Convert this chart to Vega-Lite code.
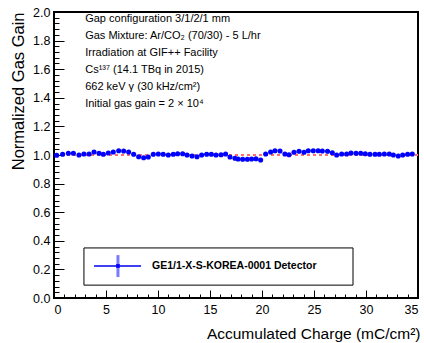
{
  "$schema": "https://vega.github.io/schema/vega-lite/v6.json",
  "width": 364,
  "height": 286,
  "autosize": {"type": "none"},
  "padding": {"left": 54, "top": 12, "right": 6, "bottom": 45},
  "config": {
    "view": {"stroke": "#000", "strokeWidth": 2},
    "font": "Liberation Sans",
    "axis": {
      "grid": false, "domain": false,
      "labelFont": "Liberation Sans", "labelFontSize": 12.5, "labelColor": "#000",
      "tickColor": "#000", "tickWidth": 1,
      "titleFont": "Liberation Sans", "titleFontWeight": "normal", "titleColor": "#000", "titleFontSize": 15.5
    }
  },
  "datasets": {
    "gain": [
      {"q": 0.26, "g": 0.998, "e": 0.005}, {"q": 0.83, "g": 1.005, "e": 0.005}, {"q": 1.38, "g": 1.012, "e": 0.005},
      {"q": 1.86, "g": 1.012, "e": 0.005}, {"q": 2.40, "g": 1.000, "e": 0.011}, {"q": 2.88, "g": 1.007, "e": 0.005},
      {"q": 3.37, "g": 1.007, "e": 0.005}, {"q": 3.85, "g": 1.021, "e": 0.012}, {"q": 4.33, "g": 1.012, "e": 0.005},
      {"q": 4.74, "g": 1.005, "e": 0.005}, {"q": 5.22, "g": 1.014, "e": 0.005}, {"q": 5.70, "g": 1.021, "e": 0.005},
      {"q": 6.22, "g": 1.030, "e": 0.005}, {"q": 6.70, "g": 1.028, "e": 0.005}, {"q": 7.18, "g": 1.021, "e": 0.005},
      {"q": 7.66, "g": 1.005, "e": 0.005}, {"q": 8.14, "g": 0.988, "e": 0.005}, {"q": 8.62, "g": 0.981, "e": 0.005},
      {"q": 9.07, "g": 0.986, "e": 0.005}, {"q": 9.55, "g": 1.005, "e": 0.005}, {"q": 10.03, "g": 1.007, "e": 0.005},
      {"q": 10.50, "g": 1.005, "e": 0.005}, {"q": 10.99, "g": 1.000, "e": 0.005}, {"q": 11.47, "g": 1.005, "e": 0.005},
      {"q": 11.89, "g": 1.009, "e": 0.005}, {"q": 12.37, "g": 1.009, "e": 0.011}, {"q": 12.79, "g": 1.000, "e": 0.005},
      {"q": 13.27, "g": 0.993, "e": 0.005}, {"q": 13.75, "g": 0.988, "e": 0.005}, {"q": 14.20, "g": 1.000, "e": 0.005},
      {"q": 14.68, "g": 1.005, "e": 0.005}, {"q": 15.13, "g": 1.005, "e": 0.005}, {"q": 15.58, "g": 1.000, "e": 0.005},
      {"q": 16.06, "g": 1.002, "e": 0.005}, {"q": 16.50, "g": 1.007, "e": 0.005}, {"q": 16.92, "g": 0.986, "e": 0.012},
      {"q": 17.40, "g": 0.977, "e": 0.005}, {"q": 17.70, "g": 0.972, "e": 0.005}, {"q": 18.14, "g": 0.970, "e": 0.005},
      {"q": 18.59, "g": 0.970, "e": 0.005}, {"q": 19.00, "g": 0.972, "e": 0.005}, {"q": 19.42, "g": 0.974, "e": 0.005},
      {"q": 19.87, "g": 0.965, "e": 0.011}, {"q": 20.35, "g": 1.007, "e": 0.005}, {"q": 20.83, "g": 1.021, "e": 0.005},
      {"q": 21.25, "g": 1.030, "e": 0.005}, {"q": 21.73, "g": 1.028, "e": 0.005}, {"q": 22.20, "g": 1.007, "e": 0.005},
      {"q": 22.60, "g": 1.002, "e": 0.005}, {"q": 23.08, "g": 1.019, "e": 0.005}, {"q": 23.56, "g": 1.026, "e": 0.005},
      {"q": 24.04, "g": 1.019, "e": 0.012}, {"q": 24.45, "g": 1.030, "e": 0.005}, {"q": 24.93, "g": 1.030, "e": 0.005},
      {"q": 25.40, "g": 1.030, "e": 0.005}, {"q": 25.80, "g": 1.028, "e": 0.005}, {"q": 26.30, "g": 1.026, "e": 0.005},
      {"q": 26.76, "g": 1.016, "e": 0.005}, {"q": 27.18, "g": 1.000, "e": 0.005}, {"q": 27.66, "g": 1.007, "e": 0.005},
      {"q": 28.14, "g": 1.007, "e": 0.005}, {"q": 28.56, "g": 1.014, "e": 0.012}, {"q": 29.04, "g": 1.012, "e": 0.005},
      {"q": 29.49, "g": 1.012, "e": 0.005}, {"q": 29.93, "g": 1.009, "e": 0.005}, {"q": 30.38, "g": 1.005, "e": 0.005},
      {"q": 30.87, "g": 1.005, "e": 0.005}, {"q": 31.28, "g": 1.005, "e": 0.005}, {"q": 31.76, "g": 1.007, "e": 0.005},
      {"q": 32.24, "g": 1.007, "e": 0.005}, {"q": 32.63, "g": 1.000, "e": 0.005}, {"q": 33.10, "g": 0.993, "e": 0.012},
      {"q": 33.53, "g": 1.000, "e": 0.005}, {"q": 34.00, "g": 1.005, "e": 0.005}, {"q": 34.45, "g": 1.007, "e": 0.005}
    ],
    "notes": [
      {"t": "Gap configuration 3/1/2/1 mm", "x": 3.0, "y": 1.951},
      {"t": "Gas Mixture: Ar/CO₂ (70/30) - 5 L/hr", "x": 3.0, "y": 1.832},
      {"t": "Irradiation at GIF++ Facility", "x": 3.0, "y": 1.713},
      {"t": "Cs¹³⁷ (14.1 TBq in 2015)", "x": 3.0, "y": 1.594},
      {"t": "662 keV γ (30 kHz/cm²)", "x": 3.0, "y": 1.476},
      {"t": "Initial gas gain = 2 × 10⁴", "x": 3.0, "y": 1.357}
    ]
  },
  "layer": [
    {
      "data": {"values": [{"ref": 1}]},
      "mark": {"type": "rule", "color": "#ff6e6e", "strokeWidth": 2, "strokeDash": [3, 3]},
      "encoding": {
        "y": {"field": "ref", "type": "quantitative", "scale": {"domain": [0, 2], "nice": false, "zero": false}, "axis": null}
      }
    },
    {
      "data": {"name": "gain"},
      "transform": [{"calculate": "datum.g - datum.e", "as": "lo"}, {"calculate": "datum.g + datum.e", "as": "hi"}],
      "mark": {"type": "rule", "color": "#8080ff", "strokeWidth": 2},
      "encoding": {
        "x": {"field": "q", "type": "quantitative", "scale": {"domain": [0, 35], "nice": false, "zero": false},
          "axis": {"orient": "bottom", "values": [0,1,2,3,4,5,6,7,8,9,10,11,12,13,14,15,16,17,18,19,20,21,22,23,24,25,26,27,28,29,30,31,32,33,34,35], "tickSize": -4, "labels": false, "title": null}},
        "y": {"field": "lo", "type": "quantitative", "scale": {"domain": [0, 2], "nice": false, "zero": false},
          "axis": {"orient": "left", "values": [0,0.04,0.08,0.12,0.16,0.2,0.24,0.28,0.32,0.36,0.4,0.44,0.48,0.52,0.56,0.6,0.64,0.68,0.72,0.76,0.8,0.84,0.88,0.92,0.96,1,1.04,1.08,1.12,1.16,1.2,1.24,1.28,1.32,1.36,1.4,1.44,1.48,1.52,1.56,1.6,1.64,1.68,1.72,1.76,1.8,1.84,1.88,1.92,1.96,2], "tickSize": -5, "labels": false, "title": null}},
        "y2": {"field": "hi"}
      }
    },
    {
      "data": {"name": "gain"},
      "mark": {"type": "point", "filled": true, "shape": "circle", "color": "#0000ff", "size": 26, "opacity": 1},
      "encoding": {
        "x": {"field": "q", "type": "quantitative", "scale": {"domain": [0, 35], "nice": false, "zero": false},
          "axis": {"orient": "bottom", "values": [0,5,10,15,20,25,30,35], "tickSize": -8, "labelPadding": 13, "format": "d",
            "title": "Accumulated Charge (mC/cm²)", "titleAnchor": "end", "titleAlign": "right", "titleX": 366, "titleY": 40, "titleBaseline": "alphabetic"}},
        "y": {"field": "g", "type": "quantitative", "scale": {"domain": [0, 2], "nice": false, "zero": false},
          "axis": {"orient": "left", "values": [0,0.2,0.4,0.6,0.8,1,1.2,1.4,1.6,1.8,2], "tickSize": -10, "labelPadding": 14, "format": ".1f",
            "title": "Normalized Gas Gain", "titleAngle": -90, "titleAlign": "right", "titleBaseline": "middle", "titleX": -36, "titleY": 0, "titleFontSize": 16.5}}
      }
    },
    {
      "data": {"name": "notes"},
      "mark": {"type": "text", "align": "left", "baseline": "middle", "fontSize": 11, "font": "Liberation Sans", "color": "#000"},
      "encoding": {
        "x": {"field": "x", "type": "quantitative", "scale": {"domain": [0, 35], "nice": false, "zero": false}, "axis": null},
        "y": {"field": "y", "type": "quantitative", "scale": {"domain": [0, 2], "nice": false, "zero": false}, "axis": null},
        "text": {"field": "t"}
      }
    },
    {
      "data": {"values": [{"x": 2.88, "x2": 28.75, "y": 0.35, "y2": 0.09}]},
      "mark": {"type": "rect", "fill": "#fff", "stroke": "#000", "strokeWidth": 1},
      "encoding": {
        "x": {"field": "x", "type": "quantitative", "scale": {"domain": [0, 35], "nice": false, "zero": false}, "axis": null},
        "x2": {"field": "x2"},
        "y": {"field": "y", "type": "quantitative", "scale": {"domain": [0, 2], "nice": false, "zero": false}, "axis": null},
        "y2": {"field": "y2"}
      }
    },
    {
      "data": {"values": [{"x": 3.85, "x2": 8.37, "y": 0.224}]},
      "mark": {"type": "rule", "color": "#0000ee", "strokeWidth": 1.5},
      "encoding": {
        "x": {"field": "x", "type": "quantitative", "scale": {"domain": [0, 35], "nice": false, "zero": false}, "axis": null},
        "x2": {"field": "x2"},
        "y": {"field": "y", "type": "quantitative", "scale": {"domain": [0, 2], "nice": false, "zero": false}, "axis": null}
      }
    },
    {
      "data": {"values": [{"x": 6.15, "y": 0.147, "y2": 0.30}]},
      "mark": {"type": "rule", "color": "#7a7aff", "strokeWidth": 3},
      "encoding": {
        "x": {"field": "x", "type": "quantitative", "scale": {"domain": [0, 35], "nice": false, "zero": false}, "axis": null},
        "y": {"field": "y", "type": "quantitative", "scale": {"domain": [0, 2], "nice": false, "zero": false}, "axis": null},
        "y2": {"field": "y2"}
      }
    },
    {
      "data": {"values": [{"x": 6.15, "y": 0.224}]},
      "mark": {"type": "point", "filled": true, "shape": "square", "color": "#0000ff", "size": 14, "opacity": 1},
      "encoding": {
        "x": {"field": "x", "type": "quantitative", "scale": {"domain": [0, 35], "nice": false, "zero": false}, "axis": null},
        "y": {"field": "y", "type": "quantitative", "scale": {"domain": [0, 2], "nice": false, "zero": false}, "axis": null}
      }
    },
    {
      "data": {"values": [{"x": 9.42, "y": 0.224, "t": "GE1/1-X-S-KOREA-0001 Detector"}]},
      "mark": {"type": "text", "align": "left", "baseline": "middle", "fontSize": 10.5, "fontWeight": "bold", "font": "Liberation Sans", "color": "#000"},
      "encoding": {
        "x": {"field": "x", "type": "quantitative", "scale": {"domain": [0, 35], "nice": false, "zero": false}, "axis": null},
        "y": {"field": "y", "type": "quantitative", "scale": {"domain": [0, 2], "nice": false, "zero": false}, "axis": null},
        "text": {"field": "t"}
      }
    }
  ],
  "resolve": {"axis": {"x": "independent", "y": "independent"}}
}
